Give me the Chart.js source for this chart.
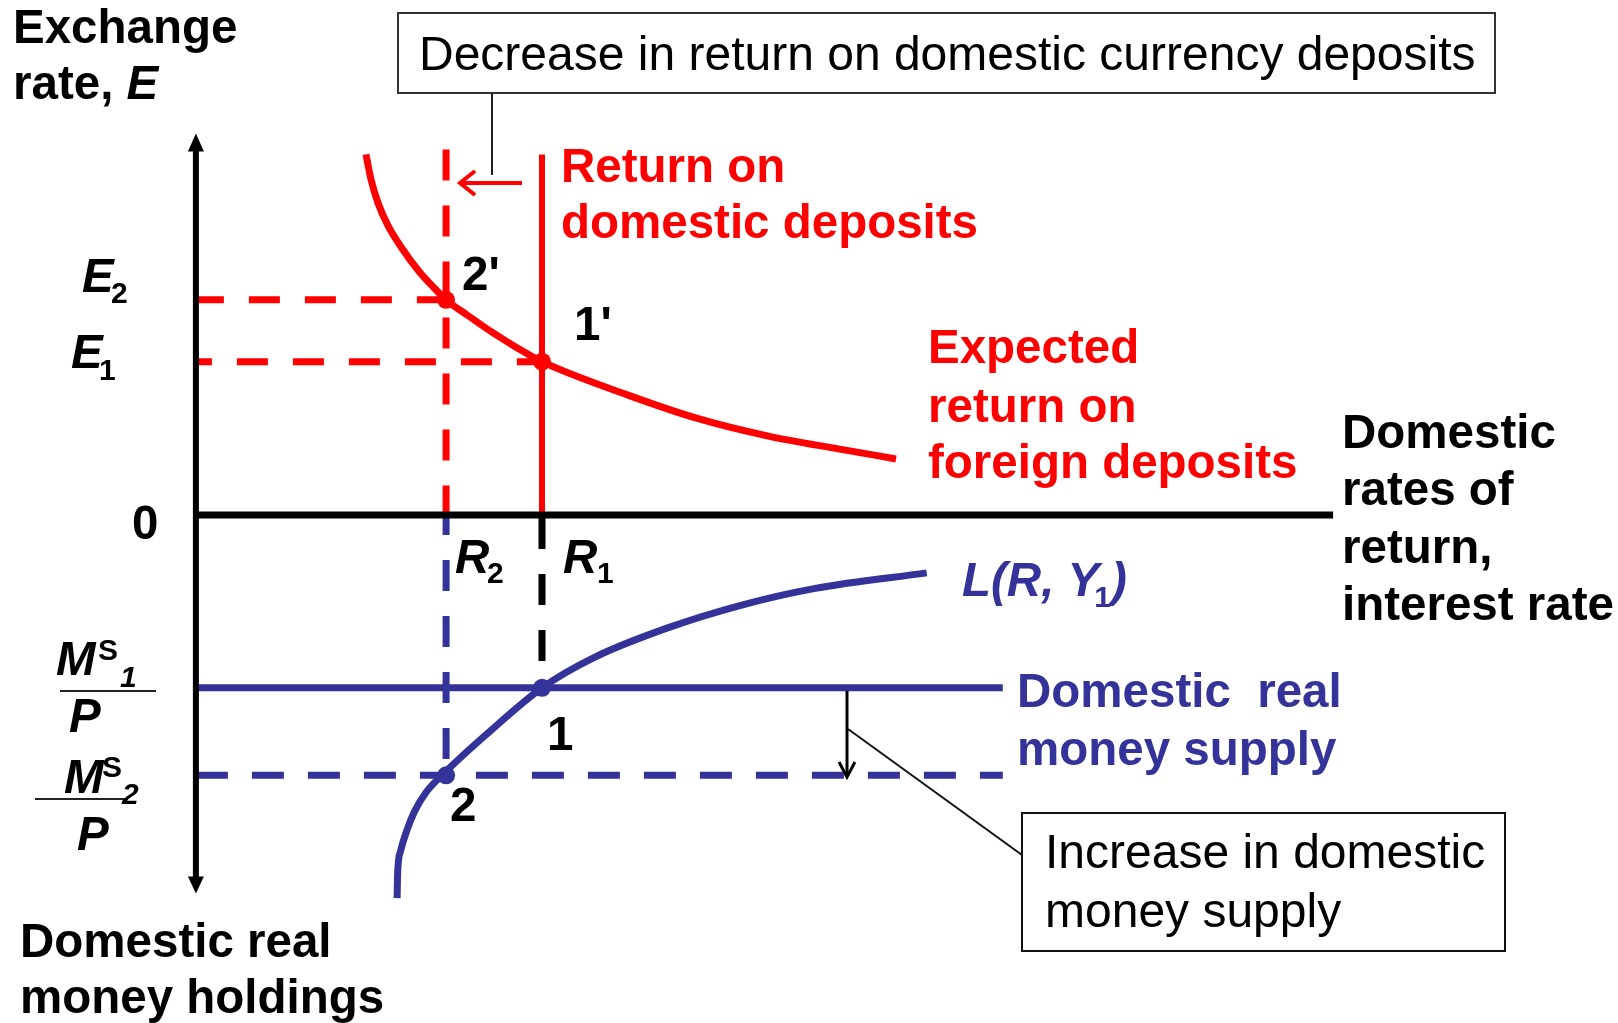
<!DOCTYPE html>
<html><head><meta charset="utf-8">
<script src="https://cdn.jsdelivr.net/npm/chart.js@4/dist/chart.umd.min.js"></script>
<style>html,body{margin:0;padding:0;background:#fff;overflow:hidden}#wrap{width:1618px;height:1023px;position:relative}</style>
</head><body><div id="wrap"><canvas id="c"></canvas></div>
<script>
// ---- values (units: interest rate on x, E above 0 / money holdings below 0) ----
const R1 = 3.50, R2 = 2.53;
const E1 = 1.56, E2 = 2.19;
const MS1 = -1.76, MS2 = -2.65;
const foreignReturnX = [1.72, 1.77, 1.84, 1.94, 2.08, 2.255, 2.40, 2.53, 2.75, 3.01, 3.25, 3.50, 4.37, 5.08, 5.80, 6.51, 7.08];
const foreignReturnY = [3.67, 3.42, 3.18, 2.95, 2.72, 2.48, 2.32, 2.19, 2.03, 1.85, 1.70, 1.56, 1.22, 0.98, 0.80, 0.67, 0.57];
const moneyDemandX = [2.035, 2.04, 2.07, 2.13, 2.21, 2.33, 2.52, 2.92, 3.50, 4.03, 4.77, 5.51, 6.25, 7.39];
const moneyDemandY = [-3.90, -3.65, -3.42, -3.22, -3.02, -2.82, -2.62, -2.25, -1.76, -1.45, -1.15, -0.92, -0.75, -0.59];
const axisTop = 3.72, axisBottom = -3.70, axisRight = 11.50;
const moneySupplyRight = 8.16;
const domesticReturnTop = 3.67, oldReturnTop = 3.72;

const RED = '#ff0000', BLUE = '#333399', BLACK = '#000000';
const FONT = "'Liberation Sans', Arial, Helvetica, sans-serif";
const pts = (xs, ys) => xs.map((x, i) => ({x, y: ys[i]}));
const seg = (x1, y1, x2, y2) => [{x: x1, y: y1}, {x: x2, y: y2}];
const DASH = [31, 25];

function line(data, color, width, extra) {
  return Object.assign({data, borderColor: color, borderWidth: width, showLine: true,
    pointRadius: 0, pointHoverRadius: 0, fill: false, borderCapStyle: 'butt', tension: 0}, extra || {});
}

const datasets = [
  Object.assign(line([{x: R2, y: E2}, {x: R1, y: E1}], RED, 0), {showLine: false, pointRadius: 9, pointBackgroundColor: RED, pointBorderWidth: 0, order: 0}),
  Object.assign(line([{x: R2, y: MS2}, {x: R1, y: MS1}], BLUE, 0), {showLine: false, pointRadius: 9, pointBackgroundColor: BLUE, pointBorderWidth: 0, order: 0}),
  line(pts(foreignReturnX, foreignReturnY), RED, 7, {cubicInterpolationMode: 'monotone', order: 2}),
  line(pts(moneyDemandX, moneyDemandY), BLUE, 7, {cubicInterpolationMode: 'monotone', order: 2}),
  line(seg(R1, domesticReturnTop, R1, 0), RED, 6, {order: 4}),
  line(seg(R2, oldReturnTop, R2, 0), RED, 7, {borderDash: DASH, order: 4}),
  line(seg(0, E2, R2, E2), RED, 7, {borderDash: DASH, borderDashOffset: 3, order: 5}),
  line(seg(0, E1, R1, E1), RED, 7, {borderDash: DASH, borderDashOffset: 15, order: 5}),
  line(seg(0, MS1, moneySupplyRight, MS1), BLUE, 7, {order: 3}),
  line(seg(0, MS2, moneySupplyRight, MS2), BLUE, 7, {borderDash: [32, 24], order: 5}),
  line(seg(R2, 0, R2, MS2), BLUE, 7, {borderDash: DASH, borderDashOffset: 11, order: 5}),
  line(seg(R1, 0, R1, MS1), BLACK, 7, {borderDash: DASH, borderDashOffset: 53, order: 5}),
  line(seg(0, 0, axisRight, 0), BLACK, 7, {order: 1}),
  line(seg(0, axisTop, 0, axisBottom), BLACK, 6, {order: 1})
];

const annot = {
  id: 'annot',
  afterDatasetsDraw(chart) {
    const ctx = chart.ctx, sx = chart.scales.x, sy = chart.scales.y;
    const X = v => sx.getPixelForValue(v), Y = v => sy.getPixelForValue(v);
    ctx.save();
    // y-axis arrowheads
    ctx.fillStyle = BLACK;
    const ax = X(0);
    ctx.beginPath(); ctx.moveTo(ax, Y(axisTop) - 16); ctx.lineTo(ax - 8, Y(axisTop) + 2); ctx.lineTo(ax + 8, Y(axisTop) + 2); ctx.closePath(); ctx.fill();
    ctx.beginPath(); ctx.moveTo(ax, Y(axisBottom) + 15); ctx.lineTo(ax - 8, Y(axisBottom) - 2); ctx.lineTo(ax + 8, Y(axisBottom) - 2); ctx.closePath(); ctx.fill();

    // small red arrow (shift left)
    ctx.strokeStyle = RED; ctx.lineWidth = 4; ctx.lineCap = 'butt';
    ctx.beginPath(); ctx.moveTo(522, 183); ctx.lineTo(460, 183); ctx.stroke();
    ctx.beginPath(); ctx.moveTo(475, 171); ctx.lineTo(460, 183); ctx.lineTo(475, 195); ctx.stroke();

    // callout box 1
    ctx.strokeStyle = '#333'; ctx.lineWidth = 2;
    ctx.strokeRect(398, 13, 1097, 80);
    ctx.strokeStyle = '#222';
    ctx.beginPath(); ctx.moveTo(492, 93); ctx.lineTo(492, 175); ctx.stroke();

    // callout box 2
    ctx.strokeStyle = '#111';
    ctx.strokeRect(1022, 813, 483, 138);
    ctx.beginPath(); ctx.moveTo(1022, 855); ctx.lineTo(848, 729); ctx.stroke();
    // down arrow
    ctx.strokeStyle = BLACK; ctx.lineWidth = 3;
    ctx.beginPath(); ctx.moveTo(847, Y(MS1) + 3); ctx.lineTo(847, 776); ctx.stroke();
    ctx.beginPath(); ctx.moveTo(839, 762); ctx.lineTo(847, 777); ctx.lineTo(855, 762); ctx.stroke();

    // fraction bars
    ctx.strokeStyle = '#222'; ctx.lineWidth = 2;
    ctx.beginPath(); ctx.moveTo(60, 691); ctx.lineTo(156, 691); ctx.stroke();
    ctx.beginPath(); ctx.moveTo(35, 799); ctx.lineTo(128, 799); ctx.stroke();

    // texts
    const B = 'bold 47.5px ' + FONT, BI = 'italic bold 47.5px ' + FONT, N = '48px ' + FONT;
    const SB = 'bold 30px ' + FONT, SBI = 'italic bold 30px ' + FONT;
    ctx.textBaseline = 'alphabetic'; ctx.textAlign = 'left';
    function T(t, x, y, font, color) { ctx.font = font; ctx.fillStyle = color || BLACK; ctx.fillText(t, x, y); return x + ctx.measureText(t).width; }

    T('Exchange', 13, 43, B);
    const ex = T('rate, ', 13, 99, B); T('E', ex, 99, BI);
    T('Decrease in return on domestic currency deposits', 419, 70, N);
    T('Return on', 561, 182, B, RED);
    T('domestic deposits', 561, 238, B, RED);
    T("2'", 462, 290, B); T("1'", 574, 340, B);
    T('E', 82, 292, BI); T('2', 111, 303, SB);
    T('E', 71, 368, BI); T('1', 99, 380, SB);
    T('Expected', 928, 363, B, RED);
    T('return on', 928, 422, B, RED);
    T('foreign deposits', 928, 478, B, RED);
    T('Domestic', 1342, 448, B); T('rates of', 1342, 505, B);
    T('return,', 1342, 563, B); T('interest rate', 1342, 620, B);
    T('0', 132, 539, B);
    T('R', 455, 573, BI); T('2', 487, 583, SB);
    T('R', 563, 573, BI); T('1', 597, 583, SB);
    let lx = T('L(R, Y', 962, 596, BI, BLUE); lx = T('1', lx - 5, 607, SB, BLUE); T(')', lx, 596, BI, BLUE);
    T('Domestic  real', 1017, 707, B, BLUE);
    T('money supply', 1017, 765, B, BLUE);
    T('1', 547, 750, B); T('2', 450, 821, B);
    T('M', 56, 675, BI); T('S', 98, 660, SB); T('1', 120, 687, SBI); T('P', 69, 732, BI);
    T('M', 64, 793, BI); T('S', 102, 777, SB); T('2', 122, 804, SBI); T('P', 77, 850, BI);
    T('Domestic real', 20, 957, B); T('money holdings', 20, 1013, B);
    T('Increase in domestic', 1045, 868, N); T('money supply', 1045, 927, N);
    ctx.restore();
  }
};

new Chart(document.getElementById('c'), {
  type: 'scatter',
  data: {datasets},
  options: {
    responsive: true, maintainAspectRatio: false, animation: false,
    layout: {padding: 0},
    plugins: {legend: {display: false}, tooltip: {enabled: false}},
    events: [],
    scales: {
      x: {type: 'linear', display: false, min: -1.89, max: 14.29},
      y: {type: 'linear', display: false, min: -5.08, max: 5.15}
    }
  },
  plugins: [annot]
});
</script></body></html>
